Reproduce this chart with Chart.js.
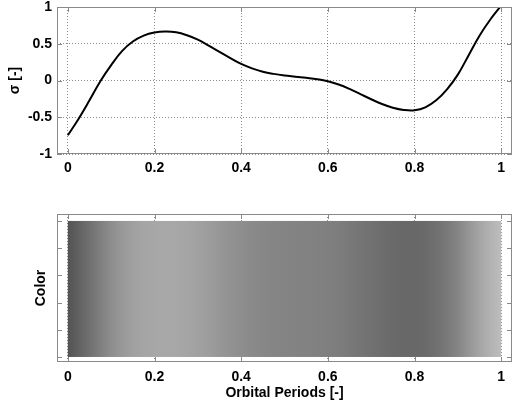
<!DOCTYPE html>
<html>
<head>
<meta charset="utf-8">
<script src="https://cdn.jsdelivr.net/npm/chart.js@4/dist/chart.umd.min.js"></script>
<style>
    html, body { margin: 0; padding: 0; background: #fff; }
    #wrap { position: relative; width: 513px; height: 405px; }
    .box { position: absolute; left: 0; width: 513px; }
    #topBox { top: 0; height: 190px; }
    #bottomBox { top: 195px; height: 210px; }
</style>
</head>
<body>
<div id="wrap">
    <div class="box" id="topBox"><canvas id="sigmaChart"></canvas></div>
    <div class="box" id="bottomBox"><canvas id="colorChart"></canvas></div>
</div>
<script>
// Orbital period samples and sigma
const periods = [0, 0.025, 0.05, 0.075, 0.1, 0.125, 0.15, 0.175, 0.2, 0.225,
    0.25, 0.275, 0.3, 0.325, 0.35, 0.375, 0.4, 0.425, 0.45, 0.475,
    0.5, 0.525, 0.55, 0.575, 0.6, 0.625, 0.65, 0.675, 0.7, 0.725,
    0.75, 0.775, 0.8, 0.825, 0.85, 0.875, 0.9, 0.925, 0.95, 0.975, 1];
const sigma = [-0.745, -0.52, -0.27, -0.01, 0.21, 0.40, 0.53, 0.61, 0.652, 0.665,
    0.655, 0.615, 0.555, 0.475, 0.39, 0.305, 0.225, 0.165, 0.12, 0.09,
    0.068, 0.052, 0.036, 0.018, -0.01, -0.055, -0.115, -0.185, -0.255, -0.32,
    -0.37, -0.40, -0.405, -0.365, -0.27, -0.12, 0.08, 0.345, 0.61, 0.83, 1.02];

const periodTicks = [0, 0.2, 0.4, 0.6, 0.8, 1];
const sigmaTicks = [-1, -0.5, 0, 0.5, 1];
const colorTicks = [0, 0.2, 0.4, 0.6, 0.8, 1];

const FONT = { family: "'Liberation Sans', Arial, sans-serif", size: 14, weight: 'bold' };
const GRID = 'rgba(0, 0, 0, 0.45)';
const FRAME = '#8a8a8a';

// grey level for a sigma value (colour strip)
function greyOf(s) {
    const g = Math.max(0, Math.min(255, Math.round(128 + 60 * s)));
    return 'rgb(' + g + ',' + g + ',' + g + ')';
}

function fixTicks(list) {
    return function (scale) {
        scale.ticks = list.map(v => ({ value: v }));
    };
}

// box around the axes plus inward tick marks, matlab style
const framePlugin = {
    id: 'frame',
    afterDraw(chart) {
        const { ctx, chartArea: a, scales } = chart;
        const x = scales.x, y = scales.y;
        ctx.save();
        ctx.strokeStyle = FRAME;
        ctx.lineWidth = 1;
        ctx.strokeRect(a.left + 0.5, a.top + 0.5, a.right - a.left - 1, a.bottom - a.top - 1);
        ctx.beginPath();
        x.ticks.forEach(t => {
            const px = Math.round(x.getPixelForValue(t.value)) + 0.5;
            ctx.moveTo(px, a.bottom); ctx.lineTo(px, a.bottom - 5);
            ctx.moveTo(px, a.top); ctx.lineTo(px, a.top + 5);
        });
        y.ticks.forEach(t => {
            const py = Math.round(y.getPixelForValue(t.value)) + 0.5;
            ctx.moveTo(a.left, py); ctx.lineTo(a.left + 5, py);
            ctx.moveTo(a.right, py); ctx.lineTo(a.right - 5, py);
        });
        ctx.stroke();
        ctx.restore();
    }
};

// grey strip built from the sigma samples on the x scale
const stripPlugin = {
    id: 'strip',
    beforeDatasetsDraw(chart) {
        const { ctx, scales: { x, y } } = chart;
        const x0 = x.getPixelForValue(periods[0]);
        const x1 = x.getPixelForValue(periods[periods.length - 1]);
        const yTop = y.getPixelForValue(1);
        const yBot = y.getPixelForValue(0);
        const grad = ctx.createLinearGradient(x0, 0, x1, 0);
        periods.forEach((p, i) => {
            grad.addColorStop((x.getPixelForValue(p) - x0) / (x1 - x0), greyOf(sigma[i]));
        });
        ctx.save();
        ctx.fillStyle = grad;
        ctx.fillRect(x0, yTop, x1 - x0, yBot - yTop);
        ctx.restore();
    }
};

Chart.defaults.font.family = FONT.family;
Chart.defaults.color = '#000';

function xScale(height, pad, title) {
    return {
        type: 'linear',
        min: -0.025,
        max: 1.025,
        afterBuildTicks: fixTicks(periodTicks),
        afterFit(scale) {
            scale.height = height;
            scale.paddingLeft = 0;
            scale.paddingRight = 0;
        },
        grid: { color: GRID, drawTicks: false, tickLength: 0 },
        border: { display: false, dash: [1, 2] },
        ticks: { font: FONT, padding: pad, maxRotation: 0, callback: v => String(v) },
        title: title
    };
}

new Chart(document.getElementById('sigmaChart'), {
    type: 'line',
    data: {
        datasets: [{
            data: periods.map((p, i) => ({ x: p, y: sigma[i] })),
            borderColor: '#000',
            borderWidth: 2,
            pointRadius: 0,
            tension: 0.4,
            fill: false
        }]
    },
    options: {
        responsive: true,
        maintainAspectRatio: false,
        animation: false,
        layout: { padding: { left: 7, top: 7, right: 1, bottom: 0 } },
        plugins: { legend: { display: false }, tooltip: { enabled: false } },
        scales: {
            x: xScale(36, 6, { display: false }),
            y: {
                type: 'linear',
                min: -1,
                max: 1,
                afterBuildTicks: fixTicks(sigmaTicks),
                afterFit(scale) {
                    scale.width = 50;
                    scale.paddingTop = 0;
                    scale.paddingBottom = 0;
                },
                grid: { color: GRID, drawTicks: false, tickLength: 0 },
                border: { display: false, dash: [1, 2] },
                ticks: { font: FONT, padding: 5, callback: v => String(v) },
                title: { display: true, text: 'σ [-]', font: FONT, padding: { top: 0, bottom: 0 } }
            }
        }
    },
    plugins: [framePlugin]
});

new Chart(document.getElementById('colorChart'), {
    type: 'line',
    data: { datasets: [] },
    options: {
        responsive: true,
        maintainAspectRatio: false,
        animation: false,
        layout: { padding: { left: 33, top: 19, right: 1, bottom: 0 } },
        plugins: { legend: { display: false }, tooltip: { enabled: false } },
        scales: {
            x: xScale(43, 7, {
                display: true, text: 'Orbital Periods [-]', font: FONT,
                padding: { top: 0, bottom: 3 }
            }),
            y: {
                type: 'linear',
                min: -0.037,
                max: 1.051,
                afterBuildTicks: fixTicks(colorTicks),
                afterFit(scale) {
                    scale.width = 24;
                    scale.paddingTop = 0;
                    scale.paddingBottom = 0;
                },
                grid: { display: false },
                border: { display: false },
                ticks: { display: false },
                title: { display: true, text: 'Color', font: FONT, padding: { top: 0, bottom: 0 } }
            }
        }
    },
    plugins: [stripPlugin, framePlugin]
});
</script>
</body>
</html>
